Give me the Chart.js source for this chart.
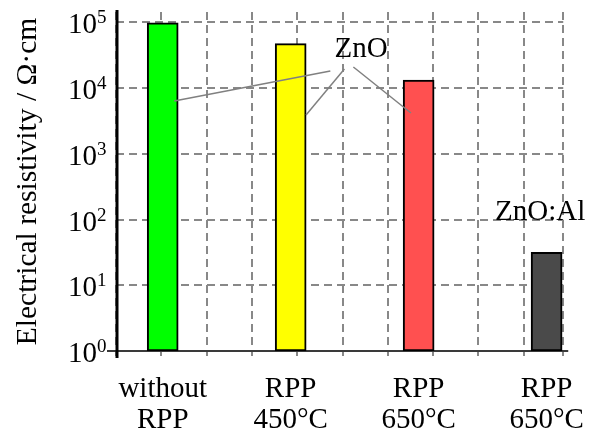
<!DOCTYPE html>
<html lang="en">
<head>
<meta charset="UTF-8" />
<title>Electrical resistivity</title>
<script src="https://cdn.jsdelivr.net/npm/chart.js"></script>
<style>
  body { margin: 0; background: #fff; }
  #wrap { width: 595px; height: 439px; }
</style>
</head>
<body>
<div id="wrap"><canvas id="chart" width="595" height="439"></canvas></div>
<script>
  // data
  const categories = [['without', 'RPP'], ['RPP', '450°C'], ['RPP', '650°C'], ['RPP', '650°C']];
  const resistivity = [9.8e4, 4.75e4, 1.32e4, 31.8];
  const barColors = ['#00ff00', '#ffff00', '#ff5050', '#4a4a4a'];
  const yTickValues = [1, 10, 100, 1000, 10000, 100000];
  const yTickExponents = ['0', '1', '2', '3', '4', '5'];

  // annotation anchors in data units: [x index, resistivity]
  const znoLabel = { text: 'ZnO', at: [1.55, 3.9e4] };
  const znoLeaders = [
    [[1.31, 1.82e4], [0.09, 6.35e3]],
    [[1.42, 1.95e4], [1.12, 3.9e3]],
    [[1.49, 2.09e4], [1.94, 4.17e3]]
  ];
  const znoAlLabel = { text: 'ZnO:Al', at: [2.95, 130] };

  const serif = '"Liberation Serif", "Times New Roman", serif';

  const axisLines = {
    id: 'axisLines',
    beforeDatasetsDraw(chart) {
      const { ctx, chartArea: a } = chart;
      ctx.save();
      ctx.strokeStyle = '#3a3a3a';
      ctx.lineWidth = 2;
      ctx.beginPath();
      ctx.moveTo(a.left - 9, a.bottom);
      ctx.lineTo(a.right + 5, a.bottom);
      ctx.stroke();
      ctx.strokeStyle = '#000';
      ctx.lineWidth = 3;
      ctx.beginPath();
      ctx.moveTo(a.left + 1, a.top - 2);
      ctx.lineTo(a.left + 1, a.bottom + 7);
      ctx.stroke();
      ctx.restore();
    }
  };

  const decadeLabels = {
    id: 'decadeLabels',
    afterDraw(chart) {
      const y = chart.scales.y;
      const ctx = chart.ctx;
      const xr = chart.chartArea.left - 19;
      ctx.save();
      ctx.fillStyle = '#000';
      ctx.textBaseline = 'alphabetic';
      yTickValues.forEach((v, i) => {
        const py = y.getPixelForValue(v);
        ctx.font = '29px ' + serif;
        ctx.textAlign = 'right';
        ctx.fillText('10', xr, py + 11);
        ctx.font = '19px ' + serif;
        ctx.textAlign = 'left';
        ctx.fillText(yTickExponents[i], xr, py + 1);
      });
      ctx.restore();
    }
  };

  const annotations = {
    id: 'annotations',
    afterDatasetsDraw(chart) {
      const { ctx, scales: { x, y } } = chart;
      const px = p => [x.getPixelForValue(p[0]), y.getPixelForValue(p[1])];
      ctx.save();
      ctx.strokeStyle = '#808080';
      ctx.lineWidth = 1.5;
      znoLeaders.forEach(([from, to]) => {
        const a = px(from), b = px(to);
        ctx.beginPath();
        ctx.moveTo(a[0], a[1]);
        ctx.lineTo(b[0], b[1]);
        ctx.stroke();
      });
      ctx.fillStyle = '#000';
      ctx.font = '29px ' + serif;
      ctx.textAlign = 'center';
      ctx.textBaseline = 'middle';
      [znoLabel, znoAlLabel].forEach(l => {
        const p = px(l.at);
        ctx.fillText(l.text, p[0], p[1]);
      });
      ctx.restore();
    }
  };

  new Chart(document.getElementById('chart').getContext('2d'), {
    type: 'bar',
    data: {
      datasets: [{
        data: resistivity.map((v, i) => ({ x: i, y: v })),
        xAxisID: 'x',
        yAxisID: 'y',
        backgroundColor: barColors,
        borderColor: '#000',
        borderWidth: 2,
        borderSkipped: false,
        barThickness: 31
      }]
    },
    options: {
      responsive: false,
      animation: false,
      layout: { padding: { top: 12, right: 25, left: 0, bottom: 0 } },
      plugins: { legend: { display: false }, tooltip: { enabled: false } },
      scales: {
        x: {
          type: 'linear',
          position: 'bottom',
          weight: 1,
          offset: false,
          min: -0.365,
          max: 3.13,
          afterBuildTicks: s => { s.ticks = categories.map((c, i) => ({ value: i })); },
          grid: { display: false, offset: false },
          border: { display: false },
          ticks: {
            callback: (v, i) => categories[i],
            color: '#000',
            font: { family: serif, size: 29, lineHeight: 1.07 },
            padding: 10,
            maxRotation: 0,
            autoSkip: false
          },
          afterFit: s => { s.height = 83; }
        },
        grid10: {
          type: 'linear',
          position: 'bottom',
          weight: 0,
          offset: false,
          min: 0,
          max: 9.87,
          afterBuildTicks: s => {
            s.ticks = Array.from({ length: 10 }, (_, i) => ({ value: i }));
            s.ticks.push({ value: s.max });
          },
          ticks: { display: false },
          grid: { offset: false, color: '#888', lineWidth: 2, tickLength: 5, tickColor: '#888' },
          border: { display: false, dash: [8, 5] },
          afterFit: s => { s.height = 5; }
        },
        y: {
          type: 'logarithmic',
          min: 1,
          max: 1.435e5,
          afterBuildTicks: s => { s.ticks = yTickValues.map(v => ({ value: v })); },
          ticks: { display: false },
          grid: { color: '#888', lineWidth: 2, drawTicks: false },
          border: { display: false, dash: [8, 5] },
          title: {
            display: true,
            text: 'Electrical resistivity / Ω·cm',
            color: '#000',
            font: { family: serif, size: 29.5 },
            padding: { top: 11, bottom: 0 }
          },
          afterFit: s => { s.width = 116; }
        }
      }
    },
    plugins: [axisLines, annotations, decadeLabels]
  });
</script>
</body>
</html>
